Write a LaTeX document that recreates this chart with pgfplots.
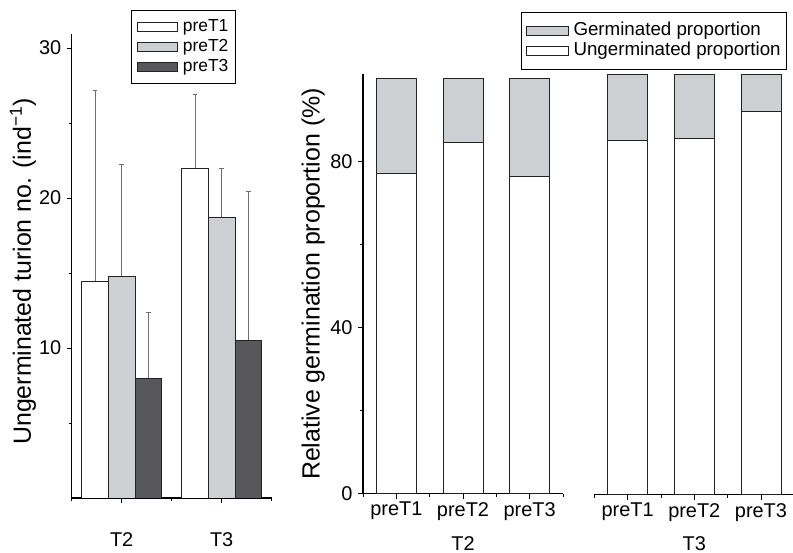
\documentclass[border=0pt]{standalone}
\usepackage{pgfplots}
\pgfplotsset{compat=1.18}
\usepackage{fontspec}
\setmainfont{Liberation Sans}
\definecolor{lgray}{HTML}{CDD0D3}
\definecolor{dgray}{HTML}{58575C}
\definecolor{egray}{HTML}{6E6E6E}
\definecolor{edge}{HTML}{222222}
\pgfplotsset{
  common/.style={scale only axis, anchor=south west,
    /pgf/number format/assume math mode=true,
    tick align=outside, major tick length=5bp, minor tick length=3bp,
    tick style={black, line width=0.9bp},
    axis line style={black, line width=1.2bp},
    ticklabel style={font=\fontsize{20}{24}\selectfont},
    yticklabel style={xshift=-2bp},
    ylabel style={font=\fontsize{25}{30}\selectfont},
    xlabel style={font=\fontsize{20}{24}\selectfont},
    legend cell align=left,
    legend style={draw=black, line width=0.8bp,
      inner xsep=5.5bp, inner ysep=6.5bp, row sep=0bp, column sep=4.5bp,
      nodes={inner sep=1bp, text height=13.5bp, text depth=4.5bp}},
  },
  legrectA/.style={legend image code/.code={\draw[##1,line width=0.8bp] (0bp,-4.5bp) rectangle (40bp,4.5bp);}},
  legrectB/.style={legend image code/.code={\draw[##1,line width=0.8bp] (0bp,-4.5bp) rectangle (41.6bp,4.5bp);}},
  errs/.style={forget plot, draw=none, fill=none, bar shift=0pt,
    error bars/.cd, y dir=plus, y explicit,
    error bar style={egray, line width=0.8bp},
    error mark options={rotate=90, egray, mark size=2.4bp, line width=0.8bp}},
}
\begin{document}
\begin{tikzpicture}
\useasboundingbox (0,0) rectangle (793bp,553bp);
% ---------- left panel ----------
\begin{axis}[common, at={(71.7bp,55bp)}, width=200bp, height=463.5bp,
  xmin=0.5, xmax=2.5, ymin=0, ymax=30.9,
  axis x line*=bottom, axis y line*=left,
  xtick={1,2}, xticklabels={T2,T3}, minor xtick={0.5,1.5,2.5},
  xticklabel style={yshift=-26bp},
  ytick={10,20,30}, minor ytick={5,15,25},
  ylabel={Ungerminated turion no. (ind\textsuperscript{−1})},
  ylabel style={at={(axis description cs:-0.2435,0.4887)}, anchor=center},
  ybar, bar width=0.2667,
  legrectA,
  legend style={at={(0.295,1.053)}, anchor=north west, font=\fontsize{17.5}{21}\selectfont,
    nodes={inner sep=1bp, text height=13.5bp, text depth=4.5bp, text width=46bp}},
]
\addplot[errs] coordinates {(0.7333,14.45) +- (0,12.72) (1.7333,21.95) +- (0,4.93)};
\addplot[errs] coordinates {(1,14.75) +- (0,7.48) (2,18.72) +- (0,3.25)};
\addplot[errs] coordinates {(1.2667,7.99) +- (0,4.40) (2.2667,10.50) +- (0,9.95)};
\addplot[fill=white, draw=edge, line width=0.9bp, bar shift=0pt]
  coordinates {(0.7333,14.45) (1.7333,21.95)};
\addplot[fill=lgray, draw=edge, line width=0.9bp, bar shift=0pt]
  coordinates {(1,14.75) (2,18.72)};
\addplot[fill=dgray, draw=edge, line width=0.9bp, bar shift=0pt]
  coordinates {(1.2667,7.99) (2.2667,10.50)};
\legend{preT1,preT2,preT3}
\end{axis}
% ---------- right panel, T2 ----------
\begin{axis}[common, at={(363bp,59.4bp)}, width=200bp, height=419.2bp,
  xmin=0.5, xmax=3.5, ymin=0, ymax=101,
  axis x line*=bottom, axis y line*=left,
  xtick={1,2,3}, xticklabels={preT1,preT2,preT3}, minor xtick={0.5,1.5,2.5,3.5},
  ytick={0,40,80}, minor ytick={20,60},
  ylabel={Relative germination proportion (\%)},
  ylabel style={at={(axis description cs:-0.2485,0.5)}, anchor=center},
  xlabel={T2},
  xlabel style={at={(axis description cs:0.5,-0.1186)}, anchor=center},
  ybar stacked, bar width=0.6,
  reverse legend, legrectB,
  legend style={at={(0.7885,1.1496)}, anchor=north west, inner ysep=8.5bp, inner xsep=5bp, column sep=4bp,
    font=\fontsize{18.8}{22}\selectfont},
]
\addplot[fill=white, draw=edge, line width=0.9bp] coordinates {(1,77.2) (2,84.6) (3,76.3)};
\addplot[fill=lgray, draw=edge, line width=0.9bp] coordinates {(1,22.8) (2,15.4) (3,23.7)};
\legend{Ungerminated proportion,Germinated proportion}
\end{axis}
% ---------- right panel, T3 ----------
\begin{axis}[common, at={(594.3bp,58.3bp)}, width=200bp, height=420bp,
  xmin=0.5, xmax=3.5, ymin=0, ymax=100,
  axis x line*=bottom, axis y line=none,
  xtick={1,2,3}, xticklabels={preT1,preT2,preT3}, minor xtick={0.5,1.5,2.5,3.5},
  ytick=\empty,
  xlabel={T3},
  xlabel style={at={(axis description cs:0.5,-0.1155)}, anchor=center},
  ybar stacked, bar width=0.6,
]
\addplot[fill=white, draw=edge, line width=0.9bp] coordinates {(1,84.4) (2,84.9) (3,91.2)};
\addplot[fill=lgray, draw=edge, line width=0.9bp] coordinates {(1,15.6) (2,15.1) (3,8.8)};
\end{axis}
\end{tikzpicture}
\end{document}
